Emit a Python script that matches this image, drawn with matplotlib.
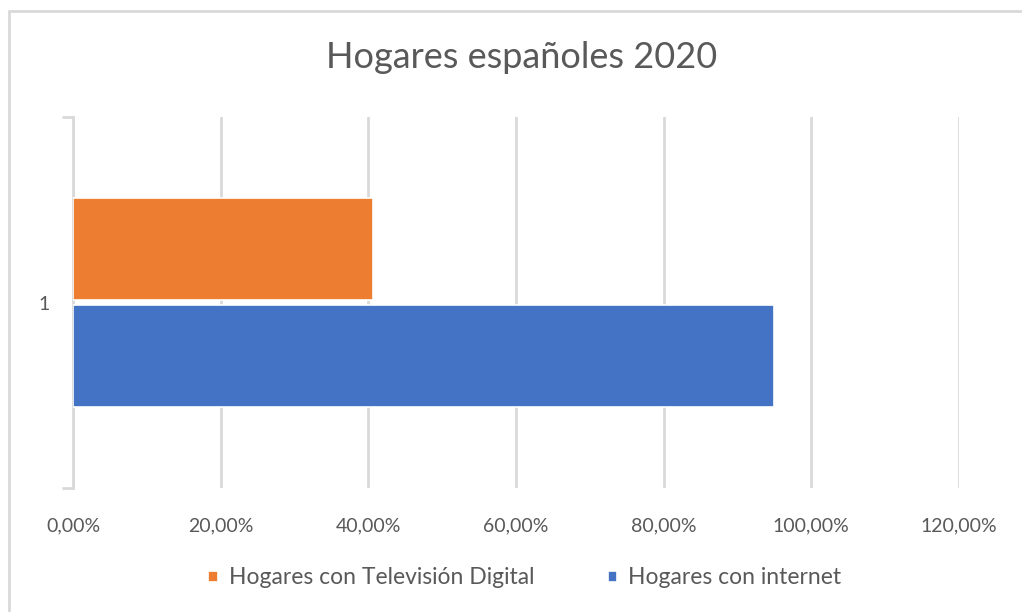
import matplotlib.pyplot as plt
from matplotlib.patches import Rectangle
from matplotlib.ticker import FuncFormatter

plt.rcParams['font.family'] = ['Lato', 'DejaVu Sans']

categories = ['1']
series_names = ['Hogares con internet', 'Hogares con Televisión Digital']
series_values = [0.950, 0.406]
series_colors = ['#4472c4', '#ed7d31']
x_ticks = [0, 0.2, 0.4, 0.6, 0.8, 1.0, 1.2]

grid_col = '#d9d9d9'
text_col = '#595959'

fig = plt.figure(figsize=(10.22, 6.12), dpi=100)
fig.patch.set_facecolor('white')

# chart border (runs off the right and bottom of the picture)
fig.patches.append(Rectangle((9 / 1022, -0.05), 1.2, 1 - 11 / 612 + 0.05,
                             transform=fig.transFigure, fill=False,
                             edgecolor=grid_col, linewidth=2))

ax = fig.add_axes([73 / 1022, 1 - 488 / 612, (959 - 73) / 1022, (488 - 117) / 612])

bar_h = 0.275
offsets = [-bar_h / 2 - 0.006, bar_h / 2 + 0.006]
for name, val, col, off in zip(series_names, series_values, series_colors, offsets):
    ax.barh(0 + off, val, height=bar_h, color=col, edgecolor='white',
            linewidth=1.2, label=name, zorder=3)

ax.set_xlim(0, 1.2)
ax.set_ylim(-0.5, 0.5)
ax.set_xticks(x_ticks)
ax.xaxis.set_major_formatter(FuncFormatter(lambda v, p: f'{v * 100:.2f}%'.replace('.', ',')))
ax.grid(axis='x', color=grid_col, linewidth=2, zorder=0)
ax.tick_params(axis='x', length=0, pad=21, labelsize=14, labelcolor=text_col)

ax.set_yticks([-0.5, 0.5])
ax.set_yticklabels([])
ax.set_yticks([0], minor=True)
ax.set_yticklabels(categories, minor=True)
ax.tick_params(axis='y', which='major', length=8, width=2, color=grid_col, direction='out')
ax.tick_params(axis='y', which='minor', length=0, pad=17, labelsize=14, labelcolor=text_col)

for s in ['top', 'right', 'bottom']:
    ax.spines[s].set_visible(False)
ax.spines['left'].set_color(grid_col)
ax.spines['left'].set_linewidth(2)

fig.text(522 / 1022, 1 - 58 / 612, 'Hogares españoles 2020', ha='center', va='center',
         fontsize=26, color=text_col)

handles, labels = ax.get_legend_handles_labels()
fig.legend(handles[::-1], labels[::-1], loc='center', bbox_to_anchor=(525 / 1022, 1 - 578 / 612),
           ncol=2, frameon=False, fontsize=16.5, handlelength=0.4, handleheight=0.4,
           handletextpad=0.5, columnspacing=3.2, labelcolor=text_col)

fig.savefig('out.png', dpi=100)
